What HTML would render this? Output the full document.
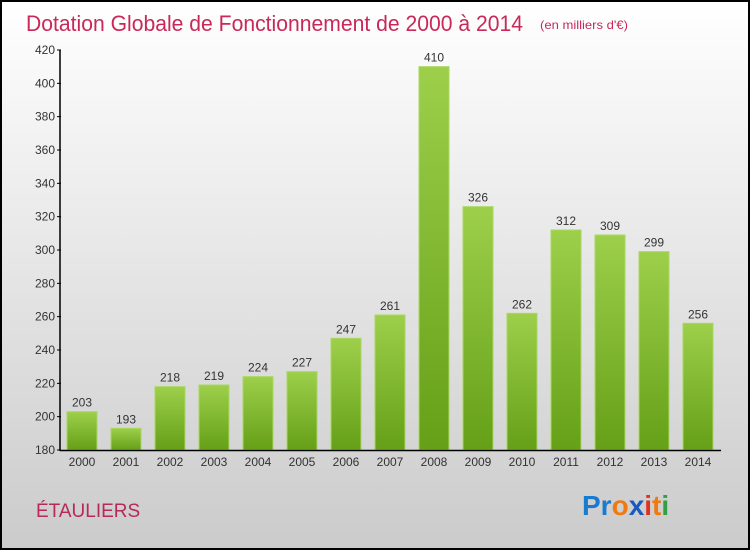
<!DOCTYPE html>
<html><head><meta charset="utf-8"><style>
body{margin:0;width:750px;height:550px;overflow:hidden}
svg text{font-family:"Liberation Sans",sans-serif}
</style></head><body>
<svg width="750" height="550">
<defs>
<linearGradient id="bg" x1="0" y1="0" x2="0" y2="1"><stop offset="0" stop-color="#ffffff"/><stop offset="1" stop-color="#cbcbcb"/></linearGradient>
<linearGradient id="bar" x1="0" y1="0" x2="0" y2="1"><stop offset="0" stop-color="#9dcf4b"/><stop offset="1" stop-color="#65a017"/></linearGradient>
</defs>
<rect x="1" y="1" width="748" height="548" fill="url(#bg)" stroke="#000" stroke-width="2"/>
<text x="26" y="31" font-size="22" fill="#c8285a" textLength="497" lengthAdjust="spacingAndGlyphs">Dotation Globale de Fonctionnement de 2000 à 2014</text>
<text x="540" y="29" font-size="12" fill="#c8285a" textLength="88" lengthAdjust="spacingAndGlyphs">(en milliers d'€)</text>
<g id="plot"></g>
<text x="36" y="517" font-size="19" fill="#b8285a">ÉTAULIERS</text>
<text x="582" y="515" font-size="28" font-weight="bold"><tspan fill="#1a7ad0">Pr</tspan><tspan fill="#f07a10">o</tspan><tspan fill="#1a5ac0">x</tspan><tspan fill="#e03020">i</tspan><tspan fill="#f07a10">t</tspan><tspan fill="#30a040">i</tspan></text>
</svg>
<script>
const categories=["2000","2001","2002","2003","2004","2005","2006","2007","2008","2009","2010","2011","2012","2013","2014"];
const values=[203,193,218,219,224,227,247,261,410,326,262,312,309,299,256];
const yTicks=[180,200,220,240,260,280,300,320,340,360,380,400,420];
const NS="http://www.w3.org/2000/svg";
const g=document.getElementById('plot');
const y=v=>450-(v-180)*(400/240);
const x=i=>82+i*44;
function mk(t,a){const e=document.createElementNS(NS,t);for(const k in a)e.setAttribute(k,a[k]);g.appendChild(e);return e;}
yTicks.forEach(v=>{
 const l=mk('line',{x1:57,x2:61,y1:y(v),y2:y(v),stroke:'#000'});
 
 
 const t=mk('text',{x:55,y:y(v)+4,'font-size':12,'text-anchor':'end',fill:'#333'});t.textContent=v;
 
 
});
categories.forEach((c,i)=>{
 const r=mk('rect',{x:x(i)-15,y:y(values[i]),width:30,height:450-y(values[i]),fill:'url(#bar)',stroke:'#a8d860','stroke-width':1});
 
 
 const v=mk('text',{x:x(i),y:y(values[i])-5,'font-size':12,'text-anchor':'middle',fill:'#333'});v.textContent=values[i];
 
 
 const t=mk('text',{x:x(i),y:466,'font-size':12,'text-anchor':'middle',fill:'#333'});t.textContent=c;
 
 
});
const ya=mk('line',{x1:60,x2:60,y1:50,y2:451,stroke:'#000','stroke-width':1.5});


const xa=mk('line',{x1:60,x2:721,y1:450.5,y2:450.5,stroke:'#000','stroke-width':1.5});


</script>
</body></html>
